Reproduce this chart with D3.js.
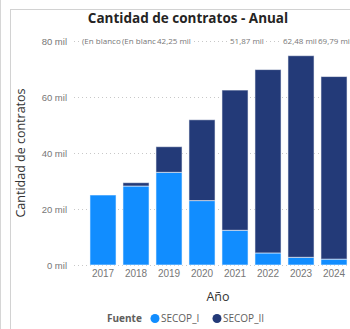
<!DOCTYPE html>
<html>
<head>
<meta charset="utf-8">
<script src="https://cdn.jsdelivr.net/npm/d3@7"></script>
<style>
  html, body { margin: 0; padding: 0; background: #fff; }
  svg { display: block; font-family: "Segoe UI", "Open Sans", "Noto Sans", sans-serif; }
</style>
</head>
<body>
<svg id="chart" width="350" height="329"></svg>
<script>
// Contracts per year, split by source (thousands)
const years = ["2017", "2018", "2019", "2020", "2021", "2022", "2023", "2024"];
const secopI = [25.0, 28.2, 33.1, 23.0, 12.4, 4.3, 2.75, 2.1];
const secopII = [0, 1.2, 9.15, 28.87, 50.08, 65.49, 72.0, 65.2];
const totalLabels = ["(En blanco)", "(En blanco)", "42,25 mil", "51,87 mil", "62,48 mil", "69,79 mil"];
const yTicks = [0, 20, 40, 60, 80];
const seriesNames = ["SECOP_I", "SECOP_II"];
const colors = ["#118DFF", "#233A78"];

// left edges of the total labels along the top row
const totalLabelX = [82, 122, 157, 230, 283, 318];

const W = 350, H = 329;
const svg = d3.select("#chart");

// panel frame
svg.append("line").attr("x1", 0.5).attr("x2", 0.5).attr("y1", 0).attr("y2", H)
  .attr("stroke", "#d6d6d6");
svg.append("rect").attr("x", 10.5).attr("y", 9.5).attr("width", W).attr("height", H)
  .attr("fill", "#fff").attr("stroke", "#d2d2d2");

const x = d3.scaleBand().domain(years).range([86.5, 350.5])
  .paddingInner(0.21).paddingOuter(0.105);
const y = d3.scaleLinear().domain([0, 80]).range([265, 41]);

// title
svg.append("text").attr("x", 188).attr("y", 23).attr("text-anchor", "middle")
  .attr("font-size", 13.5).attr("font-weight", 700).attr("fill", "#252423")
  .text("Cantidad de contratos - Anual");

// gridlines
svg.append("g").selectAll("line").data(yTicks).join("line")
  .attr("x1", 74).attr("x2", W)
  .attr("y1", d => y(d) + 0.5).attr("y2", d => y(d) + 0.5)
  .attr("stroke", "#c8c8c8").attr("stroke-dasharray", "1,3");

// y axis
const yAxis = d3.axisLeft(y).tickValues(yTicks).tickSize(0).tickPadding(0)
  .tickFormat(d => d + " mil");
const gy = svg.append("g").attr("transform", "translate(67,0)").call(yAxis);
gy.select(".domain").remove();
gy.selectAll("text").attr("font-size", 9.5).attr("fill", "#777").attr("font-family", null);

svg.append("text").attr("transform", "translate(25,153) rotate(-90)")
  .attr("text-anchor", "middle").attr("font-size", 12.5).attr("fill", "#333")
  .text("Cantidad de contratos");

// stacked bars
const rows = years.map((yr, i) => ({ year: yr, SECOP_I: secopI[i], SECOP_II: secopII[i] }));
const stacked = d3.stack().keys(seriesNames)(rows);
svg.append("g").selectAll("g").data(stacked).join("g")
  .attr("fill", (d, i) => colors[i])
  .selectAll("rect").data(d => d.filter(s => s[1] - s[0] > 0)).join("rect")
  .attr("x", d => x(d.data.year))
  .attr("width", x.bandwidth())
  .attr("y", d => y(d[1]))
  .attr("height", d => y(d[0]) - y(d[1]))
  .attr("stroke", "rgba(255,255,255,0.55)").attr("stroke-width", 1);

// x axis
const xAxis = d3.axisBottom(x).tickSize(0).tickPadding(0);
const gx = svg.append("g").attr("transform", "translate(0,270)").call(xAxis);
gx.select(".domain").remove();
gx.selectAll("text").attr("font-size", 10).attr("fill", "#777").attr("font-family", null)
  .attr("dy", "0.71em");

svg.append("text").attr("x", 218).attr("y", 301).attr("text-anchor", "middle")
  .attr("font-size", 12.5).attr("fill", "#333").text("Año");

// total labels across the top row; each one masks what lies beneath it
const tl = svg.append("g").selectAll("g").data(totalLabels).join("g")
  .attr("transform", (d, i) => `translate(${totalLabelX[i]},44)`);
tl.append("text").attr("font-size", 8).attr("fill", "#777").text(d => d)
  .each(function () {
    const b = this.getBBox();
    d3.select(this.parentNode).insert("rect", "text")
      .attr("x", b.x - 1).attr("y", b.y).attr("width", b.width + 2).attr("height", b.height)
      .attr("fill", "#fff");
  });

// legend
const lg = svg.append("g").attr("transform", "translate(107,322)");
lg.append("text").attr("font-size", 10).attr("font-weight", 700).attr("fill", "#605E5C")
  .text("Fuente");
const items = lg.selectAll("g.item").data(seriesNames).join("g").attr("class", "item")
  .attr("transform", (d, i) => `translate(${48 + i * 62},0)`);
items.append("circle").attr("cx", 0).attr("cy", -3.5).attr("r", 4.5)
  .attr("fill", (d, i) => colors[i]);
items.append("text").attr("x", 6).attr("font-size", 10).attr("fill", "#605E5C").text(d => d);
</script>
</body>
</html>
